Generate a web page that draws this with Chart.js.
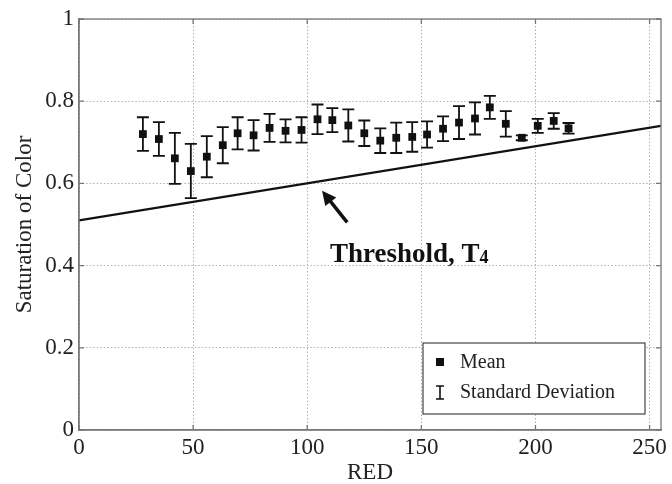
<!DOCTYPE html>
<html>
<head>
<meta charset="utf-8">
<script src="https://cdn.jsdelivr.net/npm/chart.js@4"></script>
<style>
  body { margin: 0; background: #fff; }
  #wrap { width: 672px; height: 484px; }
</style>
</head>
<body>
<div id="wrap"><canvas id="chart"></canvas></div>
<script>
// RED value of each sample, mean saturation and its standard deviation
var red = [28, 35, 42, 49, 56, 63, 69.5, 76.5, 83.5, 90.5, 97.5, 104.5, 111, 118,
           125, 132, 139, 146, 152.5, 159.5, 166.5, 173.5, 180, 187, 194, 201, 208, 214.5];
var meanSat = [0.720, 0.708, 0.661, 0.630, 0.665, 0.693, 0.722, 0.717, 0.735, 0.728,
               0.730, 0.756, 0.754, 0.741, 0.722, 0.704, 0.711, 0.713, 0.719, 0.733,
               0.748, 0.758, 0.785, 0.745, 0.711, 0.740, 0.752, 0.734];
var sdSat = [0.041, 0.041, 0.062, 0.066, 0.050, 0.044, 0.039, 0.037, 0.034, 0.028,
             0.031, 0.036, 0.029, 0.039, 0.031, 0.030, 0.037, 0.036, 0.032, 0.030,
             0.040, 0.039, 0.028, 0.031, 0.006, 0.017, 0.019, 0.013];

// threshold line T4
var thresholdX = [0, 255];
var thresholdY = [0.51, 0.74];

var xTicks = [0, 50, 100, 150, 200, 250];
var yTicks = [0, 0.2, 0.4, 0.6, 0.8, 1];

var serif = "'Liberation Serif', 'Times New Roman', serif";
var ink = '#111';

// error bars, arrow, label, legend and the axes box
var extras = {
  id: 'extras',
  afterDatasetsDraw: function(chart) {
    var c = chart.ctx, xs = chart.scales.x, ys = chart.scales.y, a = chart.chartArea;
    c.save();

    // standard deviation bars
    c.strokeStyle = ink;
    c.lineWidth = 1.8;
    for (var i = 0; i < red.length; i++) {
      var px = xs.getPixelForValue(red[i]);
      var top = ys.getPixelForValue(meanSat[i] + sdSat[i]);
      var bot = ys.getPixelForValue(meanSat[i] - sdSat[i]);
      c.beginPath();
      c.moveTo(px, top); c.lineTo(px, bot);
      c.moveTo(px - 6, top); c.lineTo(px + 6, top);
      c.moveTo(px - 6, bot); c.lineTo(px + 6, bot);
      c.stroke();
    }

    // arrow pointing at the threshold line
    var tx = xs.getPixelForValue(117.5), ty = ys.getPixelForValue(0.505);
    var hx = xs.getPixelForValue(106.5), hy = ys.getPixelForValue(0.582);
    var ang = Math.atan2(hy - ty, hx - tx);
    c.lineWidth = 3.5;
    c.beginPath();
    c.moveTo(tx, ty);
    c.lineTo(hx - 9 * Math.cos(ang), hy - 9 * Math.sin(ang));
    c.stroke();
    c.fillStyle = ink;
    c.beginPath();
    c.moveTo(hx, hy);
    c.lineTo(hx - 14 * Math.cos(ang) + 7 * Math.sin(ang), hy - 14 * Math.sin(ang) - 7 * Math.cos(ang));
    c.lineTo(hx - 14 * Math.cos(ang) - 7 * Math.sin(ang), hy - 14 * Math.sin(ang) + 7 * Math.cos(ang));
    c.closePath();
    c.fill();

    // label
    var lx = xs.getPixelForValue(110), ly = ys.getPixelForValue(0.409);
    c.textBaseline = 'alphabetic';
    c.textAlign = 'left';
    c.font = 'bold 27px ' + serif;
    c.fillText('Threshold, T', lx, ly);
    var w = c.measureText('Threshold, T').width;
    c.font = 'bold 18px ' + serif;
    c.fillText('4', lx + w, ly + 1);

    // legend
    var bx2 = a.right - 16, by2 = a.bottom - 16, bw = 222, bh = 71;
    var bx = bx2 - bw, by = by2 - bh;
    c.fillStyle = '#fff';
    c.fillRect(bx, by, bw, bh);
    c.strokeStyle = '#444';
    c.lineWidth = 1.2;
    c.strokeRect(bx, by, bw, bh);
    c.fillStyle = ink;
    c.fillRect(bx + 13, by + 15, 8, 8);
    c.strokeStyle = ink;
    c.lineWidth = 1.6;
    c.beginPath();
    c.moveTo(bx + 17, by + 43); c.lineTo(bx + 17, by + 56);
    c.moveTo(bx + 13, by + 43); c.lineTo(bx + 21, by + 43);
    c.moveTo(bx + 13, by + 56); c.lineTo(bx + 21, by + 56);
    c.stroke();
    c.font = '20px ' + serif;
    c.fillStyle = '#222';
    c.fillText('Mean', bx + 37, by + 25);
    c.fillText('Standard Deviation', bx + 37, by + 55);

    // box around the plot with inward ticks
    c.strokeStyle = '#777';
    c.lineWidth = 1.3;
    c.strokeRect(a.left, a.top, a.right - a.left, a.bottom - a.top);
    c.beginPath();
    xTicks.forEach(function(v) {
      var p = xs.getPixelForValue(v);
      c.moveTo(p, a.bottom); c.lineTo(p, a.bottom - 5);
      c.moveTo(p, a.top); c.lineTo(p, a.top + 5);
    });
    yTicks.forEach(function(v) {
      var p = ys.getPixelForValue(v);
      c.moveTo(a.left, p); c.lineTo(a.left + 5, p);
      c.moveTo(a.right, p); c.lineTo(a.right - 5, p);
    });
    c.stroke();
    c.restore();
  }
};

var ctx = document.getElementById('chart').getContext('2d');
var myChart = new Chart(ctx, {
  type: 'scatter',
  data: {
    datasets: [{
      label: 'Threshold',
      type: 'line',
      data: thresholdX.map(function(x, i) { return { x: x, y: thresholdY[i] }; }),
      borderColor: ink,
      borderWidth: 2.2,
      pointRadius: 0,
      fill: false
    }, {
      label: 'Mean',
      data: red.map(function(x, i) { return { x: x, y: meanSat[i] }; }),
      pointStyle: 'rect',
      pointRadius: 5.5,
      pointHoverRadius: 5.5,
      backgroundColor: ink,
      borderColor: ink,
      borderWidth: 0
    }]
  },
  options: {
    responsive: true,
    maintainAspectRatio: false,
    animation: false,
    layout: { padding: { top: 19, right: 11, left: 0, bottom: 0 } },
    plugins: { legend: { display: false }, tooltip: { enabled: false } },
    scales: {
      x: {
        type: 'linear',
        min: 0,
        max: 255,
        afterBuildTicks: function(s) { s.ticks = xTicks.map(function(v) { return { value: v }; }); },
        afterFit: function(s) { s.height = 54; },
        grid: { color: '#b0b0b0', lineWidth: 1, drawTicks: false },
        border: { color: '#777', width: 1.3, dash: [1.5, 2] },
        ticks: { font: { family: serif, size: 23 }, color: '#222', padding: 4, maxRotation: 0 },
        title: { display: true, text: 'RED', font: { family: serif, size: 23, lineHeight: 1 }, color: '#222', padding: { top: 0, bottom: 0 } }
      },
      y: {
        min: 0,
        max: 1,
        afterBuildTicks: function(s) { s.ticks = yTicks.map(function(v) { return { value: v }; }); },
        afterFit: function(s) { s.width = 79; },
        grid: { color: '#b0b0b0', lineWidth: 1, drawTicks: false },
        border: { color: '#777', width: 1.3, dash: [1.5, 2] },
        ticks: {
          font: { family: serif, size: 23 },
          color: '#222',
          padding: 5,
          callback: function(v) { return String(Math.round(v * 10) / 10); }
        },
        title: { display: true, text: 'Saturation of Color', font: { family: serif, size: 23 }, color: '#222', padding: { top: 11, bottom: 0 } }
      }
    }
  },
  plugins: [extras]
});
</script>
</body>
</html>
